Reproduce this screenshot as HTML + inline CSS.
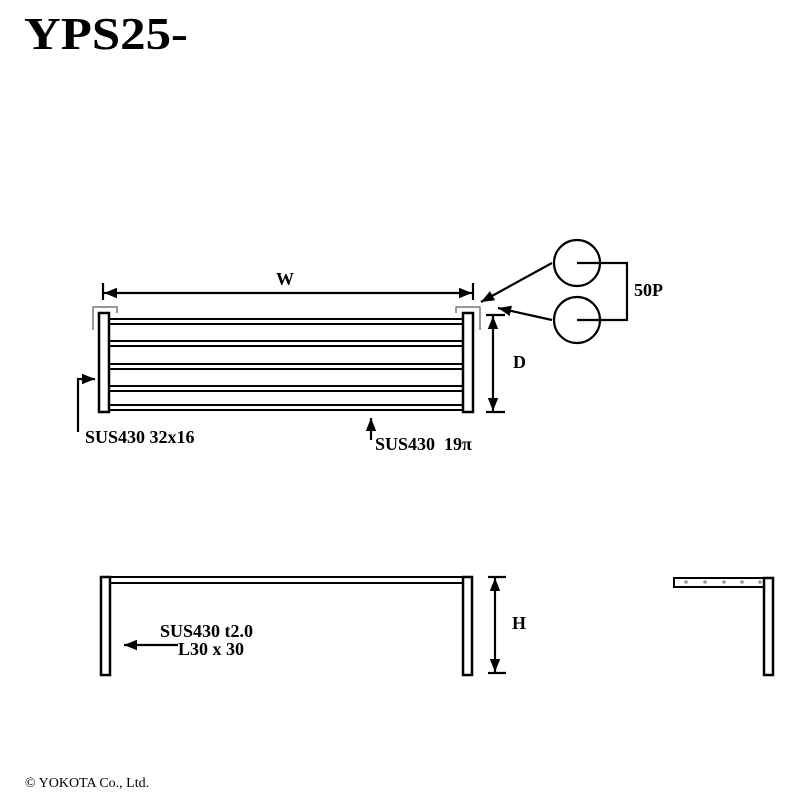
<!DOCTYPE html>
<html><head><style>body{margin:0;background:#fff}svg{display:block}</style></head><body>
<svg width="800" height="800" viewBox="0 0 800 800" xmlns="http://www.w3.org/2000/svg" font-family="Liberation Serif, serif">
<defs><marker id="a" viewBox="0 0 10 10" refX="10" refY="5" markerWidth="6" markerHeight="6" orient="auto-start-reverse"><path d="M0,1 L10,5 L0,9 z" fill="#000"/></marker></defs>
<text x="24" y="49" font-size="46" font-weight="bold" textLength="164" lengthAdjust="spacingAndGlyphs">YPS25-</text>
<g stroke="#000" fill="none">
<path d="M93,330 V307 H117 V313" stroke="#777" stroke-width="1.5"/>
<path d="M480,330 V307 H456 V313" stroke="#777" stroke-width="1.5"/>
<g stroke-width="2">
<rect x="99" y="313" width="10" height="99" stroke-width="2.5"/>
<rect x="463" y="313" width="10" height="99" stroke-width="2.5"/>
<rect x="109" y="319" width="354" height="5"/>
<rect x="109" y="341" width="354" height="5"/>
<rect x="109" y="364" width="354" height="5"/>
<rect x="109" y="386" width="354" height="5"/>
<rect x="109" y="405" width="354" height="5"/>
</g>
<g stroke-width="2.2">
<line x1="103" y1="283" x2="103" y2="300"/><line x1="473" y1="283" x2="473" y2="300"/>
<line x1="104" y1="293" x2="472" y2="293" marker-start="url(#a)" marker-end="url(#a)"/>
<line x1="486" y1="315" x2="505" y2="315"/><line x1="486" y1="412" x2="505" y2="412"/>
<line x1="493" y1="316" x2="493" y2="411" marker-start="url(#a)" marker-end="url(#a)"/>
<circle cx="577" cy="263" r="23"/><circle cx="577" cy="320" r="23"/>
<path d="M577,263 H627 V320 H577"/>
<line x1="552" y1="263" x2="481" y2="302" marker-end="url(#a)"/>
<line x1="552" y1="320" x2="498" y2="308" marker-end="url(#a)"/>
<path d="M78,432 V379 H95" marker-end="url(#a)"/>
<line x1="371" y1="440" x2="371" y2="418" marker-end="url(#a)"/>
</g>
</g>
<g font-weight="bold" font-size="18">
<text x="276" y="285">W</text>
<text x="513" y="368">D</text>
<text x="634" y="296">50P</text>
<text x="85" y="443">SUS430 32x16</text>
<text x="375" y="450">SUS430&#160;&#160;19π</text>
<text x="512" y="629">H</text>
<text x="160" y="637">SUS430 t2.0</text>
<text x="178" y="655">L30 x 30</text>
</g>
<g stroke="#000" fill="none" stroke-width="2.5">
<rect x="101" y="577" width="9" height="98"/>
<rect x="463" y="577" width="9" height="98"/>
<rect x="110" y="577" width="353" height="6" stroke-width="2"/>
<line x1="488" y1="577" x2="506" y2="577" stroke-width="2.2"/><line x1="488" y1="673" x2="506" y2="673" stroke-width="2.2"/>
<line x1="495" y1="578" x2="495" y2="672" stroke-width="2.2" marker-start="url(#a)" marker-end="url(#a)"/>
<line x1="178" y1="645" x2="124" y2="645" stroke-width="2.2" marker-end="url(#a)"/>
<rect x="674" y="578" width="90" height="9" stroke-width="2"/>
<rect x="764" y="578" width="9" height="97"/>
</g>
<g fill="#999"><circle cx="686" cy="582" r="1.8"/><circle cx="705" cy="582" r="1.8"/><circle cx="724" cy="582" r="1.8"/><circle cx="742" cy="582" r="1.8"/><circle cx="760" cy="582" r="1.8"/></g>
<text x="25" y="787" font-size="14">© YOKOTA Co., Ltd.</text>
</svg>
</body></html>
